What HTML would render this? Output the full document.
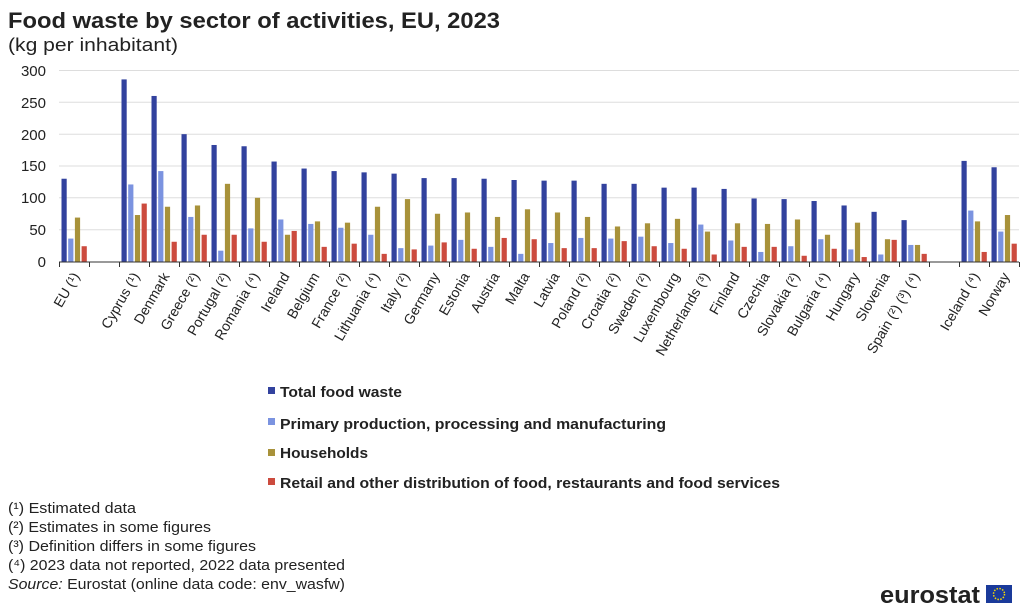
<!DOCTYPE html>
<html><head><meta charset="utf-8"><style>
body{margin:0;background:#fff;width:1024px;height:608px;overflow:hidden;font-family:"Liberation Sans",Arial,sans-serif}
.a{fill:#32429e}.b{fill:#7b93e0}.c{fill:#a8923a}.d{fill:#cc4b3e}
text{font-family:"Liberation Sans",Arial,sans-serif;fill:#222}
</style></head><body>
<svg width="1024" height="608" viewBox="0 0 1024 608" xmlns="http://www.w3.org/2000/svg">
<text x="8" y="28" font-size="22" font-weight="bold" fill="#111" textLength="492" lengthAdjust="spacingAndGlyphs">Food waste by sector of activities, EU, 2023</text>
<text x="8" y="51" font-size="18" textLength="170" lengthAdjust="spacingAndGlyphs">(kg per inhabitant)</text>
<g stroke="#ddd" stroke-width="1">
<line x1="59" x2="1019" y1="70.5" y2="70.5"/><line x1="59" x2="1019" y1="102.3" y2="102.3"/><line x1="59" x2="1019" y1="134.2" y2="134.2"/><line x1="59" x2="1019" y1="166" y2="166"/><line x1="59" x2="1019" y1="197.8" y2="197.8"/><line x1="59" x2="1019" y1="229.7" y2="229.7"/>
</g>
<g font-size="15" text-anchor="end">
<text x="46" y="76">300</text><text x="46" y="108">250</text><text x="46" y="140">200</text><text x="46" y="171">150</text><text x="46" y="203">100</text><text x="46" y="235">50</text><text x="46" y="267">0</text>
</g>
<g id="bars">
<g transform="translate(59,261.5) scale(1,-0.6367)"><rect class="a" x="2.5" width="5.2" height="130"/><rect class="b" x="9.2" width="5.2" height="36"/><rect class="c" x="15.9" width="5.2" height="69"/><rect class="d" x="22.6" width="5.2" height="24"/></g>
<g transform="translate(119,261.5) scale(1,-0.6367)"><rect class="a" x="2.5" width="5.2" height="286"/><rect class="b" x="9.2" width="5.2" height="121"/><rect class="c" x="15.9" width="5.2" height="73"/><rect class="d" x="22.6" width="5.2" height="91"/></g>
<g transform="translate(149,261.5) scale(1,-0.6367)"><rect class="a" x="2.5" width="5.2" height="260"/><rect class="b" x="9.2" width="5.2" height="142"/><rect class="c" x="15.9" width="5.2" height="86"/><rect class="d" x="22.6" width="5.2" height="31"/></g>
<g transform="translate(179,261.5) scale(1,-0.6367)"><rect class="a" x="2.5" width="5.2" height="200"/><rect class="b" x="9.2" width="5.2" height="70"/><rect class="c" x="15.9" width="5.2" height="88"/><rect class="d" x="22.6" width="5.2" height="42"/></g>
<g transform="translate(209,261.5) scale(1,-0.6367)"><rect class="a" x="2.5" width="5.2" height="183"/><rect class="b" x="9.2" width="5.2" height="17"/><rect class="c" x="15.9" width="5.2" height="122"/><rect class="d" x="22.6" width="5.2" height="42"/></g>
<g transform="translate(239,261.5) scale(1,-0.6367)"><rect class="a" x="2.5" width="5.2" height="181"/><rect class="b" x="9.2" width="5.2" height="52"/><rect class="c" x="15.9" width="5.2" height="100"/><rect class="d" x="22.6" width="5.2" height="31"/></g>
<g transform="translate(269,261.5) scale(1,-0.6367)"><rect class="a" x="2.5" width="5.2" height="157"/><rect class="b" x="9.2" width="5.2" height="66"/><rect class="c" x="15.9" width="5.2" height="42"/><rect class="d" x="22.6" width="5.2" height="48"/></g>
<g transform="translate(299,261.5) scale(1,-0.6367)"><rect class="a" x="2.5" width="5.2" height="146"/><rect class="b" x="9.2" width="5.2" height="59"/><rect class="c" x="15.9" width="5.2" height="63"/><rect class="d" x="22.6" width="5.2" height="23"/></g>
<g transform="translate(329,261.5) scale(1,-0.6367)"><rect class="a" x="2.5" width="5.2" height="142"/><rect class="b" x="9.2" width="5.2" height="53"/><rect class="c" x="15.9" width="5.2" height="61"/><rect class="d" x="22.6" width="5.2" height="28"/></g>
<g transform="translate(359,261.5) scale(1,-0.6367)"><rect class="a" x="2.5" width="5.2" height="140"/><rect class="b" x="9.2" width="5.2" height="42"/><rect class="c" x="15.9" width="5.2" height="86"/><rect class="d" x="22.6" width="5.2" height="12"/></g>
<g transform="translate(389,261.5) scale(1,-0.6367)"><rect class="a" x="2.5" width="5.2" height="138"/><rect class="b" x="9.2" width="5.2" height="21"/><rect class="c" x="15.9" width="5.2" height="98"/><rect class="d" x="22.6" width="5.2" height="19"/></g>
<g transform="translate(419,261.5) scale(1,-0.6367)"><rect class="a" x="2.5" width="5.2" height="131"/><rect class="b" x="9.2" width="5.2" height="25"/><rect class="c" x="15.9" width="5.2" height="75"/><rect class="d" x="22.6" width="5.2" height="30"/></g>
<g transform="translate(449,261.5) scale(1,-0.6367)"><rect class="a" x="2.5" width="5.2" height="131"/><rect class="b" x="9.2" width="5.2" height="34"/><rect class="c" x="15.9" width="5.2" height="77"/><rect class="d" x="22.6" width="5.2" height="20"/></g>
<g transform="translate(479,261.5) scale(1,-0.6367)"><rect class="a" x="2.5" width="5.2" height="130"/><rect class="b" x="9.2" width="5.2" height="23"/><rect class="c" x="15.9" width="5.2" height="70"/><rect class="d" x="22.6" width="5.2" height="37"/></g>
<g transform="translate(509,261.5) scale(1,-0.6367)"><rect class="a" x="2.5" width="5.2" height="128"/><rect class="b" x="9.2" width="5.2" height="12"/><rect class="c" x="15.9" width="5.2" height="82"/><rect class="d" x="22.6" width="5.2" height="35"/></g>
<g transform="translate(539,261.5) scale(1,-0.6367)"><rect class="a" x="2.5" width="5.2" height="127"/><rect class="b" x="9.2" width="5.2" height="29"/><rect class="c" x="15.9" width="5.2" height="77"/><rect class="d" x="22.6" width="5.2" height="21"/></g>
<g transform="translate(569,261.5) scale(1,-0.6367)"><rect class="a" x="2.5" width="5.2" height="127"/><rect class="b" x="9.2" width="5.2" height="37"/><rect class="c" x="15.9" width="5.2" height="70"/><rect class="d" x="22.6" width="5.2" height="21"/></g>
<g transform="translate(599,261.5) scale(1,-0.6367)"><rect class="a" x="2.5" width="5.2" height="122"/><rect class="b" x="9.2" width="5.2" height="36"/><rect class="c" x="15.9" width="5.2" height="55"/><rect class="d" x="22.6" width="5.2" height="32"/></g>
<g transform="translate(629,261.5) scale(1,-0.6367)"><rect class="a" x="2.5" width="5.2" height="122"/><rect class="b" x="9.2" width="5.2" height="39"/><rect class="c" x="15.9" width="5.2" height="60"/><rect class="d" x="22.6" width="5.2" height="24"/></g>
<g transform="translate(659,261.5) scale(1,-0.6367)"><rect class="a" x="2.5" width="5.2" height="116"/><rect class="b" x="9.2" width="5.2" height="29"/><rect class="c" x="15.9" width="5.2" height="67"/><rect class="d" x="22.6" width="5.2" height="20"/></g>
<g transform="translate(689,261.5) scale(1,-0.6367)"><rect class="a" x="2.5" width="5.2" height="116"/><rect class="b" x="9.2" width="5.2" height="58"/><rect class="c" x="15.9" width="5.2" height="47"/><rect class="d" x="22.6" width="5.2" height="11"/></g>
<g transform="translate(719,261.5) scale(1,-0.6367)"><rect class="a" x="2.5" width="5.2" height="114"/><rect class="b" x="9.2" width="5.2" height="33"/><rect class="c" x="15.9" width="5.2" height="60"/><rect class="d" x="22.6" width="5.2" height="23"/></g>
<g transform="translate(749,261.5) scale(1,-0.6367)"><rect class="a" x="2.5" width="5.2" height="99"/><rect class="b" x="9.2" width="5.2" height="15"/><rect class="c" x="15.9" width="5.2" height="59"/><rect class="d" x="22.6" width="5.2" height="23"/></g>
<g transform="translate(779,261.5) scale(1,-0.6367)"><rect class="a" x="2.5" width="5.2" height="98"/><rect class="b" x="9.2" width="5.2" height="24"/><rect class="c" x="15.9" width="5.2" height="66"/><rect class="d" x="22.6" width="5.2" height="9"/></g>
<g transform="translate(809,261.5) scale(1,-0.6367)"><rect class="a" x="2.5" width="5.2" height="95"/><rect class="b" x="9.2" width="5.2" height="35"/><rect class="c" x="15.9" width="5.2" height="42"/><rect class="d" x="22.6" width="5.2" height="20"/></g>
<g transform="translate(839,261.5) scale(1,-0.6367)"><rect class="a" x="2.5" width="5.2" height="88"/><rect class="b" x="9.2" width="5.2" height="19"/><rect class="c" x="15.9" width="5.2" height="61"/><rect class="d" x="22.6" width="5.2" height="7"/></g>
<g transform="translate(869,261.5) scale(1,-0.6367)"><rect class="a" x="2.5" width="5.2" height="78"/><rect class="b" x="9.2" width="5.2" height="11"/><rect class="c" x="15.9" width="5.2" height="35"/><rect class="d" x="22.6" width="5.2" height="34"/></g>
<g transform="translate(899,261.5) scale(1,-0.6367)"><rect class="a" x="2.5" width="5.2" height="65"/><rect class="b" x="9.2" width="5.2" height="26"/><rect class="c" x="15.9" width="5.2" height="26"/><rect class="d" x="22.6" width="5.2" height="12"/></g>
<g transform="translate(959,261.5) scale(1,-0.6367)"><rect class="a" x="2.5" width="5.2" height="158"/><rect class="b" x="9.2" width="5.2" height="80"/><rect class="c" x="15.9" width="5.2" height="63"/><rect class="d" x="22.6" width="5.2" height="15"/></g>
<g transform="translate(989,261.5) scale(1,-0.6367)"><rect class="a" x="2.5" width="5.2" height="148"/><rect class="b" x="9.2" width="5.2" height="47"/><rect class="c" x="15.9" width="5.2" height="73"/><rect class="d" x="22.6" width="5.2" height="28"/></g>
</g>
<line x1="59" x2="1019" y1="262" y2="262" stroke="#333" stroke-width="1"/>
<path stroke="#333" stroke-width="1" d="M59.5 262v5M89.5 262v5M119.5 262v5M149.5 262v5M179.5 262v5M209.5 262v5M239.5 262v5M269.5 262v5M299.5 262v5M329.5 262v5M359.5 262v5M389.5 262v5M419.5 262v5M449.5 262v5M479.5 262v5M509.5 262v5M539.5 262v5M569.5 262v5M599.5 262v5M629.5 262v5M659.5 262v5M689.5 262v5M719.5 262v5M749.5 262v5M779.5 262v5M809.5 262v5M839.5 262v5M869.5 262v5M899.5 262v5M929.5 262v5M959.5 262v5M989.5 262v5M1019.5 262v5"/>
<g font-size="14" text-anchor="end">
<text transform="translate(80,276) rotate(-60)">EU (¹)</text>
<text transform="translate(140,276) rotate(-60)">Cyprus (¹)</text>
<text transform="translate(170,276) rotate(-60)">Denmark</text>
<text transform="translate(200,276) rotate(-60)">Greece (²)</text>
<text transform="translate(230,276) rotate(-60)">Portugal (²)</text>
<text transform="translate(260,276) rotate(-60)">Romania (⁴)</text>
<text transform="translate(290,276) rotate(-60)">Ireland</text>
<text transform="translate(320,276) rotate(-60)">Belgium</text>
<text transform="translate(350,276) rotate(-60)">France (²)</text>
<text transform="translate(380,276) rotate(-60)">Lithuania (⁴)</text>
<text transform="translate(410,276) rotate(-60)">Italy (²)</text>
<text transform="translate(440,276) rotate(-60)">Germany</text>
<text transform="translate(470,276) rotate(-60)">Estonia</text>
<text transform="translate(500,276) rotate(-60)">Austria</text>
<text transform="translate(530,276) rotate(-60)">Malta</text>
<text transform="translate(560,276) rotate(-60)">Latvia</text>
<text transform="translate(590,276) rotate(-60)">Poland (²)</text>
<text transform="translate(620,276) rotate(-60)">Croatia (²)</text>
<text transform="translate(650,276) rotate(-60)">Sweden (²)</text>
<text transform="translate(680,276) rotate(-60)">Luxembourg</text>
<text transform="translate(710,276) rotate(-60)">Netherlands (³)</text>
<text transform="translate(740,276) rotate(-60)">Finland</text>
<text transform="translate(770,276) rotate(-60)">Czechia</text>
<text transform="translate(800,276) rotate(-60)">Slovakia (²)</text>
<text transform="translate(830,276) rotate(-60)">Bulgaria (⁴)</text>
<text transform="translate(860,276) rotate(-60)">Hungary</text>
<text transform="translate(890,276) rotate(-60)">Slovenia</text>
<text transform="translate(920,276) rotate(-60)">Spain (²) (³) (⁴)</text>
<text transform="translate(980,276) rotate(-60)">Iceland (⁴)</text>
<text transform="translate(1010,276) rotate(-60)">Norway</text>
</g>
<g font-size="15" font-weight="bold" fill="#111">
<rect class="a" x="268" y="387" width="7" height="7"/><text x="280" y="397" textLength="122" lengthAdjust="spacingAndGlyphs">Total food waste</text>
<rect class="b" x="268" y="418" width="7" height="7"/><text x="280" y="429" textLength="386" lengthAdjust="spacingAndGlyphs">Primary production, processing and manufacturing</text>
<rect class="c" x="268" y="449" width="7" height="7"/><text x="280" y="458" textLength="88" lengthAdjust="spacingAndGlyphs">Households</text>
<rect class="d" x="268" y="478" width="7" height="7"/><text x="280" y="488" textLength="500" lengthAdjust="spacingAndGlyphs">Retail and other distribution of food, restaurants and food services</text>
</g>
<g font-size="15">
<text x="8" y="513" textLength="128" lengthAdjust="spacingAndGlyphs">(¹) Estimated data</text>
<text x="8" y="532" textLength="203" lengthAdjust="spacingAndGlyphs">(²) Estimates in some figures</text>
<text x="8" y="551" textLength="248" lengthAdjust="spacingAndGlyphs">(³) Definition differs in some figures</text>
<text x="8" y="570" textLength="337" lengthAdjust="spacingAndGlyphs">(⁴) 2023 data not reported, 2022 data presented</text>
<text x="8" y="589" textLength="337" lengthAdjust="spacingAndGlyphs"><tspan font-style="italic">Source:</tspan> Eurostat (online data code: env_wasfw)</text>
</g>
<text x="880" y="603" font-size="24" font-weight="bold" fill="#808080" textLength="100" lengthAdjust="spacingAndGlyphs">eurostat</text>
<rect x="986" y="585" width="26" height="18" fill="#1a3a9a"/>
<circle cx="999" cy="594" r="5.5" fill="none" stroke="#f5d800" stroke-width="1.5" stroke-dasharray="1.5 1.4"/>
</svg>
</body></html>
